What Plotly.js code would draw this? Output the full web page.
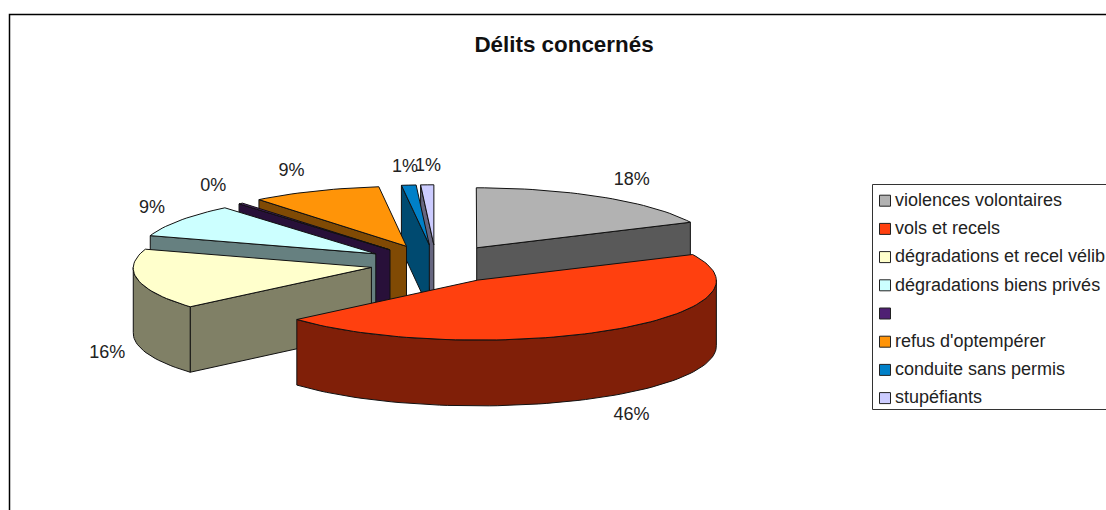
<!DOCTYPE html>
<html>
<head>
<meta charset="utf-8">
<script src="https://cdn.plot.ly/plotly-3.0.1.min.js"></script>
<style>html,body{margin:0;padding:0;background:#fff;overflow:hidden}</style>
</head>
<body>
<div id="chart" style="width:1106px;height:510px"></div>
<script>
// Offence shares, clockwise from twelve o'clock
const categories = ['violences volontaires', 'vols et recels', 'dégradations et recel vélib',
  'dégradations biens privés', '', "refus d'optempérer", 'conduite sans permis', 'stupéfiants'];
const shares = [18, 45.6, 16.3, 9, 0.3, 8.9, 1, 0.9];

// How far each slice is pulled out of the pie, in radii
const explode = [0.32, 0.32, 0.277, 0.305, 0.305, 0.32, 0.32, 0.32];

// Top-face and side-wall colours of each slice
const topColors = ['#b2b2b2', '#ff400f', '#ffffcc', '#ccffff', '#4f1f73', '#ff9408', '#0080c8', '#ccccff'];
const wallColors = ['#595959', '#801f08', '#808066', '#668080', '#281039', '#804a04', '#004a70', '#666680'];

// Back-to-front paint order of the exploded slices
const paintOrder = [0, 7, 6, 5, 4, 3, 2, 1];

// Small per-label adjustments in pixels
const labelNudge = [[6, 1], [2, 2], [18, 3], [10, 0], [2, 0], [-7, 0], [0, 3], [2, 3]];

// Projection of the tilted pie onto the page
const CX = 436, CY = 264, RX = 238, RY = 60, THICK = 65, PERSP = 0.01;
const rad = d => d * Math.PI / 180;
function project(X, Y, z) {
  const s = 1 - PERSP * Y;
  return [CX + RX * X * s, CY - RY * Y + z * THICK * s];
}

const total = shares.reduce((a, b) => a + b, 0);
const slices = [];
let cum = 0;
shares.forEach((v, i) => {
  const a0 = cum / total * 360;
  cum += v;
  const a1 = cum / total * 360;
  const mid = (a0 + a1) / 2;
  slices.push({ i, a0, a1, mid, ox: explode[i] * Math.sin(rad(mid)), oy: explode[i] * Math.cos(rad(mid)) });
});

function polygon(points, fill, name) {
  const x = points.map(p => p[0]), y = points.map(p => p[1]);
  x.push(x[0]); y.push(y[0]);
  return { type: 'scatter', mode: 'lines', x, y, fill: 'toself', fillcolor: fill,
    line: { color: '#111', width: 1 }, hoverinfo: 'text', text: name, showlegend: false };
}

const traces = [];
paintOrder.forEach(idx => {
  const s = slices[idx];
  const rim = (a, z) => project(s.ox + Math.sin(rad(a)), s.oy + Math.cos(rad(a)), z);
  const apex = z => project(s.ox, s.oy, z);
  const wall = wallColors[idx], name = categories[idx];

  // Radial cut faces seen by the viewer
  if (Math.sin(rad(s.a0)) < -1e-6) traces.push(polygon([rim(s.a0, 0), apex(0), apex(1), rim(s.a0, 1)], wall, name));
  if (Math.sin(rad(s.a1)) > 1e-6) traces.push(polygon([rim(s.a1, 0), apex(0), apex(1), rim(s.a1, 1)], wall, name));

  // Outer wall: only the part of the rim facing the viewer
  const from = Math.max(s.a0, 90), to = Math.min(s.a1, 270);
  if (to > from) {
    const upper = [], lower = [];
    const n = Math.max(2, Math.ceil((to - from) / 2));
    for (let k = 0; k <= n; k++) {
      const a = from + (to - from) * k / n;
      upper.push(rim(a, 0));
      lower.unshift(rim(a, 1));
    }
    traces.push(polygon(upper.concat(lower), wall, name));
  }

  // Top face
  const top = [apex(0)];
  const n = Math.max(2, Math.ceil((s.a1 - s.a0) / 2));
  for (let k = 0; k <= n; k++) top.push(rim(s.a0 + (s.a1 - s.a0) * k / n, 0));
  traces.push(polygon(top, topColors[idx], name));
});

// Percentage labels around the pie
const labelX = [], labelY = [], labelText = [];
slices.forEach(s => {
  const sn = Math.sin(rad(s.mid)), cs = Math.cos(rad(s.mid));
  labelX.push(CX + 1.5 * 236 * sn + labelNudge[s.i][0]);
  labelY.push(CY - 1.67 * RY * cs + (cs < 0 ? THICK + 1 : 0) + labelNudge[s.i][1]);
  labelText.push(Math.round(shares[s.i] / total * 100) + '%');
});
const FONT = 'Liberation Sans, Arial, sans-serif';
traces.push({ type: 'scatter', mode: 'text', x: labelX, y: labelY, text: labelText,
  textposition: 'middle center', textfont: { family: FONT, size: 18, color: '#222' },
  hoverinfo: 'skip', showlegend: false });

// Key: swatches and names in a framed box
const KEY_ROW0 = 200.7, KEY_STEP = 28.2, KEY_SWATCH_X = 885, KEY_TEXT_X = 895;
const keyY = categories.map((_, i) => KEY_ROW0 + i * KEY_STEP);
traces.push({ type: 'scatter', mode: 'markers', x: categories.map(() => KEY_SWATCH_X), y: keyY,
  marker: { symbol: 'square', size: 11, color: topColors, line: { color: '#222', width: 1 } },
  hoverinfo: 'skip', showlegend: false });
traces.push({ type: 'scatter', mode: 'text', x: categories.map(() => KEY_TEXT_X), y: keyY.map(y => y + 0.7), text: categories,
  textposition: 'middle right', textfont: { family: FONT, size: 18, color: '#222' },
  hoverinfo: 'skip', cliponaxis: false, showlegend: false });

const layout = {
  width: 1106, height: 510,
  margin: { l: 0, r: 0, t: 0, b: 0 },
  paper_bgcolor: '#fff', plot_bgcolor: '#fff',
  showlegend: false,
  title: { text: 'Délits concernés', x: 564 / 1106, xanchor: 'center', y: 1 - 44 / 510, yanchor: 'middle',
    font: { family: FONT, size: 22.4, color: '#111', weight: 'bold' } },
  xaxis: { range: [0, 1106], visible: false, fixedrange: true },
  yaxis: { range: [510, 0], visible: false, fixedrange: true },
  shapes: [
    // Chart frame, running off the page to the right and below
    { type: 'path', path: 'M 9.5 510 L 9.5 14.5 L 1106 14.5', line: { color: '#000', width: 1.5 }, layer: 'below' },
    // Key frame
    { type: 'path', path: 'M 1106 184.5 L 872.5 184.5 L 872.5 409.5 L 1106 409.5', line: { color: '#333', width: 1 }, layer: 'below' }
  ]
};
Plotly.newPlot('chart', traces, layout, { displayModeBar: false, staticPlot: true });
</script>
</body>
</html>
